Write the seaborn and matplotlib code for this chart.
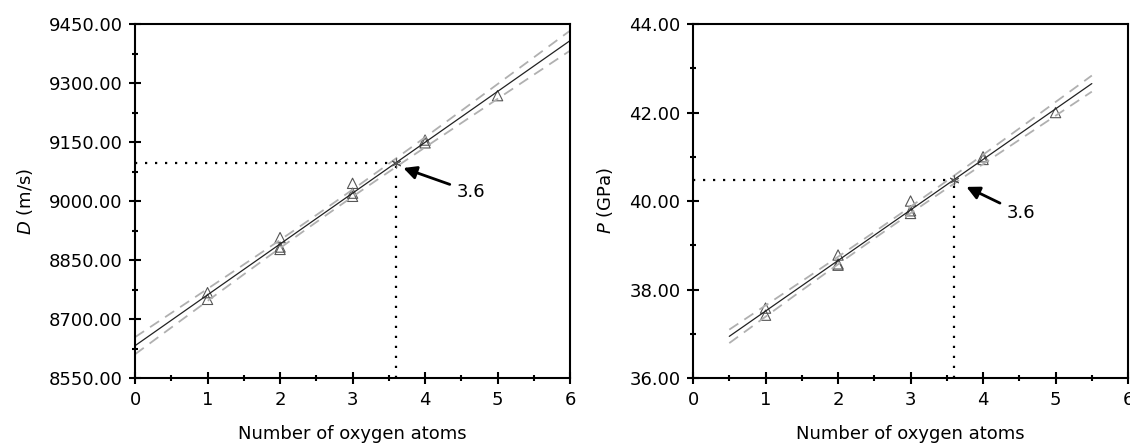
import numpy as np
import pandas as pd
import matplotlib
matplotlib.use('Agg')
import matplotlib.pyplot as plt
import matplotlib.ticker as mticker
import seaborn as sns

# oxygen atom counts for each compound (same for both panels)
n_oxygen = [1, 1, 2, 2, 2, 3, 3, 3, 4, 4, 5]
# detonation velocity D (m/s)
det_velocity = [8767, 8750, 8907, 8883, 8877, 9045, 9020, 9012, 9155, 9148, 9268]
# detonation pressure P (GPa)
det_pressure = [37.58, 37.42, 38.78, 38.58, 38.55, 40.00, 39.78, 39.72, 41.00, 40.94, 42.00]

target_n = 3.6
t_975 = 2.262  # t value, 95 %, 9 dof

sns.set_style('ticks')
plt.rcParams['font.family'] = ['DejaVu Sans']
plt.rcParams['font.size'] = 13
plt.rcParams['mathtext.default'] = 'it'
for k in ['text.color', 'axes.labelcolor', 'xtick.color', 'ytick.color']:
    plt.rcParams[k] = 'black'


def fit_band(x, y, xs):
    x = np.asarray(x, float)
    y = np.asarray(y, float)
    slope, icpt = np.polyfit(x, y, 1)
    resid = y - (icpt + slope * x)
    s = np.sqrt(np.sum(resid ** 2) / (len(x) - 2))
    sxx = np.sum((x - x.mean()) ** 2)
    se = s * np.sqrt(1 / len(x) + (xs - x.mean()) ** 2 / sxx)
    fit = icpt + slope * xs
    return fit, fit - t_975 * se, fit + t_975 * se, icpt + slope * target_n


def panel(ax, y, x_range, ylim, ystep, ylabel, arrow_xy, text_xy):
    xs = np.linspace(x_range[0], x_range[1], 50)
    fit, lo, hi, y_at = fit_band(n_oxygen, y, xs)

    for band in (lo, hi):
        sns.lineplot(x=xs, y=band, ax=ax, color='#b0b0b0', lw=1.3,
                     dashes=False, linestyle=(0, (6, 4)))
    sns.lineplot(x=xs, y=fit, ax=ax, color='#222222', lw=0.9)
    sns.scatterplot(x=n_oxygen, y=y, ax=ax, marker='^', s=55,
                    facecolor='none', edgecolor='#555555', linewidth=0.8)

    ax.plot([0, target_n], [y_at, y_at], color='black', lw=1.6,
            linestyle=(0, (1, 3.5)))
    ax.plot([target_n, target_n], [ylim[0], y_at], color='black', lw=1.6,
            linestyle=(0, (1, 3.5)))
    ax.plot([target_n], [y_at], marker=(6, 2, 0), ms=7, color='#555555', mew=0.8)

    ax.annotate('3.6', xy=arrow_xy, xytext=text_xy, ha='left', va='center',
                fontsize=13,
                arrowprops=dict(arrowstyle='-|>,head_length=0.6,head_width=0.3',
                                lw=2, color='black', shrinkA=3, shrinkB=0))

    ax.set_xlim(0, 6)
    ax.set_ylim(*ylim)
    ax.xaxis.set_major_locator(mticker.MultipleLocator(1))
    ax.xaxis.set_minor_locator(mticker.MultipleLocator(0.5))
    ax.yaxis.set_major_locator(mticker.MultipleLocator(ystep))
    ax.yaxis.set_minor_locator(mticker.MultipleLocator(ystep / 2))
    ax.yaxis.set_major_formatter(mticker.FormatStrFormatter('%.2f'))
    ax.tick_params(which='major', direction='inout', length=8, width=1.5, pad=5,
                   labelsize=13)
    ax.tick_params(which='minor', direction='inout', length=5, width=1.5)
    for sp in ax.spines.values():
        sp.set_linewidth(1.5)
        sp.set_color('black')
    ax.set_xlabel('Number of oxygen atoms', labelpad=12)
    ax.set_ylabel(ylabel, labelpad=10)


fig = plt.figure(figsize=(11.3, 4.43), dpi=100)
ax1 = fig.add_axes([0.1195, 0.1467, 0.385, 0.799])
ax2 = fig.add_axes([0.6133, 0.1467, 0.385, 0.799])

panel(ax1, det_velocity, (0, 6), (8550, 9450), 150, '$D$ (m/s)',
      (3.70, 9084), (4.44, 9023))
panel(ax2, det_pressure, (0.5, 5.5), (36, 44), 2, '$P$ (GPa)',
      (3.77, 40.32), (4.33, 39.72))

fig.savefig('out.png', dpi=100)
